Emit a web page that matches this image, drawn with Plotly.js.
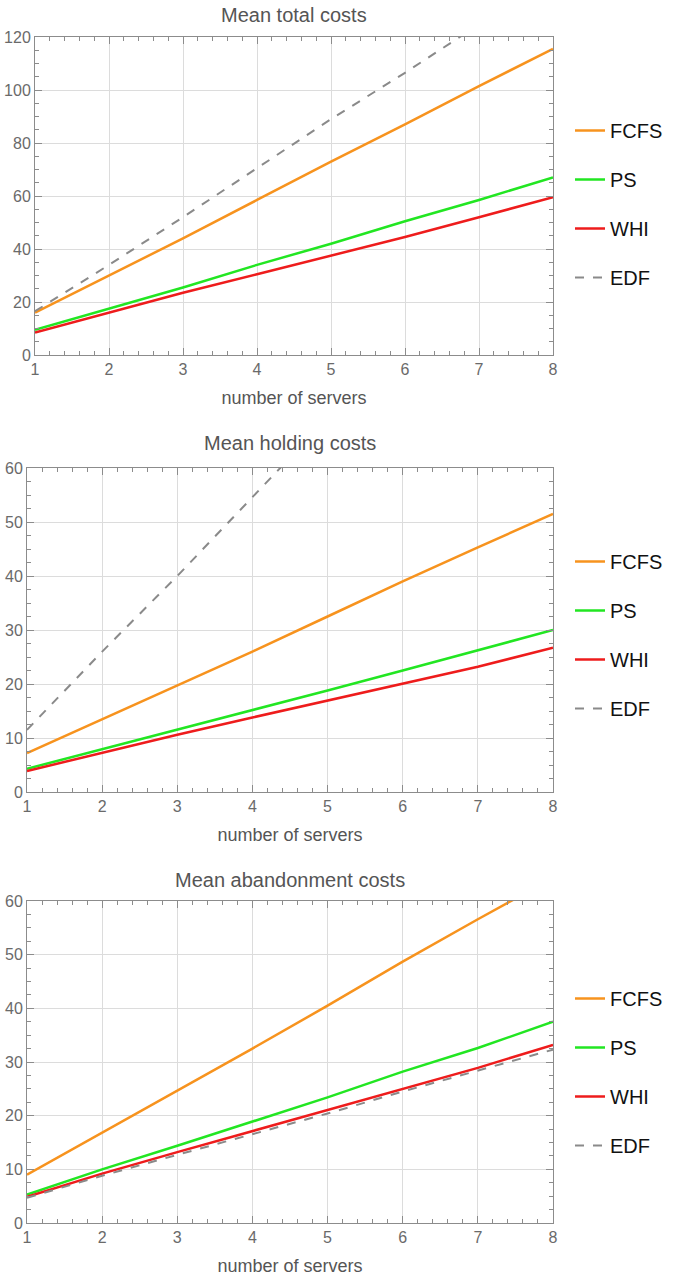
<!DOCTYPE html>
<html>
<head>
<meta charset="utf-8">
<script src="https://cdn.plot.ly/plotly-3.0.1.min.js"></script>
<style>html,body{margin:0;padding:0;background:#fff;}#chart{width:686px;height:1277px;}</style>
</head>
<body>
<div id="chart"></div>
<script>
// ---- data ----
const servers = [1, 2, 3, 4, 5, 6, 7, 8];
const seriesNames = ["FCFS", "PS", "WHI", "EDF"];

// Mean total costs
const totalFCFS = [16, 30, 44, 58.5, 73, 87, 101.5, 115.5];
const totalPS   = [9.5, 17.5, 25.5, 34, 42, 50.5, 58.5, 67];
const totalWHI  = [8.5, 16, 23.5, 30.5, 37.5, 44.5, 52, 59.5];
const totalEDF  = [16.5, 34, 52, 70.5, 89, 106.5, 125, 143];

// Mean holding costs
const holdFCFS = [7.2, 13.5, 19.8, 26, 32.5, 39, 45.3, 51.5];
const holdPS   = [4.3, 7.9, 11.6, 15.2, 18.8, 22.5, 26.2, 30];
const holdWHI  = [3.9, 7.3, 10.6, 13.8, 16.9, 20, 23.2, 26.7];
const holdEDF  = [11.5, 26, 40, 54.5, 69, 84, 98, 113];

// Mean abandonment costs
const abanFCFS = [9, 16.8, 24.6, 32.5, 40.5, 48.7, 56.6, 64.3];
const abanPS   = [5.3, 10, 14.4, 18.9, 23.4, 28.2, 32.6, 37.5];
const abanWHI  = [4.9, 9.2, 13.2, 17.1, 21, 24.9, 28.9, 33.2];
const abanEDF  = [4.7, 8.8, 12.7, 16.5, 20.4, 24.5, 28.4, 32.3];

const panelTitles = ["Mean total costs", "Mean holding costs", "Mean abandonment costs"];
const xTitle = "number of servers";

// ---- styling ----
const colors = {FCFS: "#f7931e", PS: "#22e622", WHI: "#ee1c1c", EDF: "#8a8a8a"};
const W = 686, H = 1277;
const FONT = "Liberation Sans, Arial, sans-serif";

const panels = [
  {data: [totalFCFS, totalPS, totalWHI, totalEDF], x0: 35, x1: 553, y0: 37, y1: 355, range: [0, 120], dtick: 20, minor: 5, legTop: 111, tY: 15},
  {data: [holdFCFS, holdPS, holdWHI, holdEDF], x0: 27, x1: 553, y0: 468, y1: 792, range: [0, 60], dtick: 10, minor: 2.5, legTop: 542, tY: 443},
  {data: [abanFCFS, abanPS, abanWHI, abanEDF], x0: 27, x1: 553, y0: 901, y1: 1223, range: [0, 60], dtick: 10, minor: 2.5, legTop: 979, tY: 880}
];

const traces = [];
const layout = {
  width: W, height: H,
  margin: {l: 0, r: 0, t: 0, b: 0},
  paper_bgcolor: "#fff", plot_bgcolor: "#fff",
  font: {family: FONT, color: "#555"},
  annotations: []
};

panels.forEach((p, i) => {
  const sfx = i === 0 ? "" : String(i + 1);
  const legName = "legend" + sfx;
  seriesNames.forEach((n, k) => {
    traces.push({
      x: servers, y: p.data[k], name: n, type: "scatter", mode: "lines",
      xaxis: "x" + sfx, yaxis: "y" + sfx,
      legend: legName, legendgroup: n + i,
      line: {color: colors[n], width: n === "EDF" ? 2 : 2.5, dash: n === "EDF" ? "dash" : "solid"},
      hoverinfo: "skip"
    });
  });
  const axCommon = {
    showline: true, linecolor: "#8c8c8c", linewidth: 1, mirror: "allticks",
    ticks: "inside", ticklen: 7, tickcolor: "#8c8c8c",
    showgrid: true, gridcolor: "#dcdcdc", gridwidth: 1,
    zeroline: false, tickfont: {size: 16, color: "#6a6a6a", family: FONT},
    fixedrange: true
  };
  layout["xaxis" + sfx] = Object.assign({}, axCommon, {
    domain: [p.x0 / W, p.x1 / W], anchor: "y" + sfx,
    range: [1, 8], dtick: 1, tick0: 1,
    minor: {dtick: 0.2, ticks: "inside", ticklen: 4, tickcolor: "#8c8c8c", showgrid: false},
    title: {text: xTitle, font: {size: 18, color: "#555", family: FONT}, standoff: 14}
  });
  layout["yaxis" + sfx] = Object.assign({}, axCommon, {
    domain: [1 - p.y1 / H, 1 - p.y0 / H], anchor: "x" + sfx,
    range: p.range, dtick: p.dtick, tick0: 0,
    minor: {dtick: p.minor, ticks: "inside", ticklen: 4, tickcolor: "#8c8c8c", showgrid: false}
  });
  layout[legName] = {
    x: 570 / W, xanchor: "left", y: 1 - p.legTop / H, yanchor: "top",
    font: {size: 20, color: "#111", family: FONT},
    bgcolor: "rgba(0,0,0,0)", tracegroupgap: 20, traceorder: "grouped",
    itemwidth: 30
  };
  layout.annotations.push({
    text: panelTitles[i], xref: "paper", yref: "paper",
    x: ((p.x0 + p.x1) / 2) / W, y: 1 - p.tY / H, xanchor: "center", yanchor: "middle",
    showarrow: false, font: {size: 20, color: "#555", family: FONT}
  });
});

Plotly.newPlot("chart", traces, layout, {displayModeBar: false, staticPlot: true});
</script>
</body>
</html>
